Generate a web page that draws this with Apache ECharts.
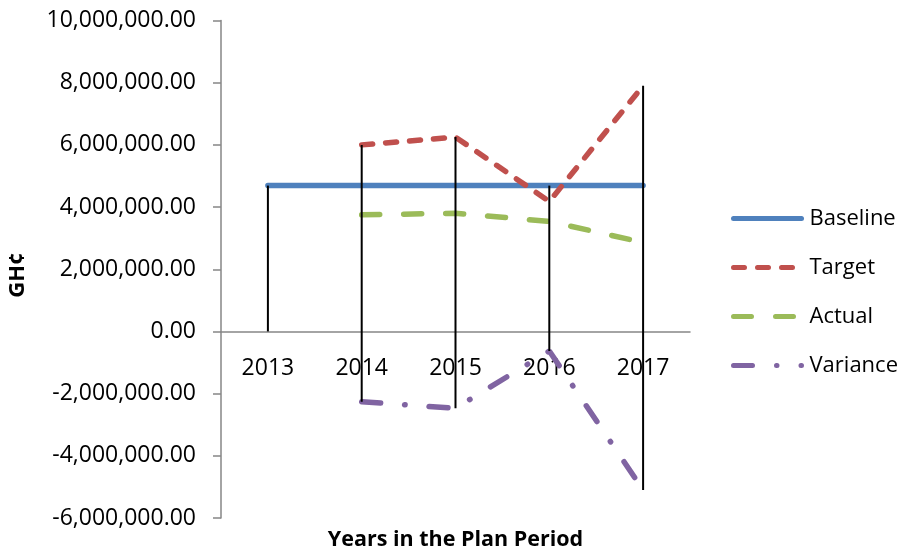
<!DOCTYPE html>
<html>
<head>
<meta charset="utf-8">
<script src="https://cdn.jsdelivr.net/npm/echarts@6/dist/echarts.min.js"></script>
<style>
html,body{margin:0;padding:0;background:#fff;}
#chart{width:903px;height:554px;}
</style>
</head>
<body>
<div id="chart"></div>
<script>
var categories = ['2013', '2014', '2015', '2016', '2017'];
var baseline = [4690000, 4690000, 4690000, 4690000, 4690000];
var target = [null, 6000000, 6250000, 4180000, 7900000];
var actual = [null, 3750000, 3800000, 3540000, 2860000];
var variance = [null, -2260000, -2470000, -630000, -5100000];
var yTicks = { min: -6000000, max: 10000000, interval: 2000000 };
var seriesNames = ['Baseline', 'Target', 'Actual', 'Variance'];

var FONT = 'Open Sans';
var all = [baseline, target, actual, variance];
var dropData = categories.map(function (c, i) {
  var vals = [];
  var missing = false;
  all.forEach(function (s) { if (s[i] === null) missing = true; else vals.push(s[i]); });
  if (missing) vals.push(0);
  return [i, Math.max.apply(null, vals), Math.min.apply(null, vals)];
});

function fmt(v) {
  return v.toLocaleString('en-US', { minimumFractionDigits: 2, maximumFractionDigits: 2 });
}

var gridTop = 20.5, gridBottom = 36, H = 554;
var plotH = H - gridTop - gridBottom;
// pixel distance from grid bottom up to the zero line (value-axis scale)
var zeroOffset = plotH * (0 - yTicks.min) / (yTicks.max - yTicks.min);

var chart = echarts.init(document.getElementById('chart'), null, { renderer: 'canvas' });
var option = {
  animation: false,
  backgroundColor: '#ffffff',
  grid: { left: 221, right: 213, top: gridTop, bottom: gridBottom, containLabel: false },
  xAxis: {
    type: 'category',
    data: categories,
    boundaryGap: true,
    offset: -zeroOffset,
    axisLine: { onZero: false, lineStyle: { color: '#868686', width: 1.5 } },
    axisTick: { show: false },
    axisLabel: { margin: 26, fontSize: 23, color: '#000', fontFamily: FONT },
    splitLine: { show: false }
  },
  yAxis: {
    type: 'value',
    min: yTicks.min, max: yTicks.max, interval: yTicks.interval,
    axisLine: { show: true, lineStyle: { color: '#868686', width: 1.5 } },
    axisTick: { show: true, length: 8, lineStyle: { color: '#868686', width: 1.5 } },
    axisLabel: { margin: 25, fontSize: 23, color: '#000', fontFamily: FONT, formatter: fmt },
    splitLine: { show: false }
  },
  legend: {
    data: seriesNames,
    orient: 'vertical',
    left: 726,
    top: 199.5,
    padding: 5,
    itemWidth: 68,
    itemHeight: 14,
    itemGap: 21,
    itemStyle: { color: 'rgba(0,0,0,0)', borderWidth: 0, opacity: 0 },
    lineStyle: { width: 5, cap: 'round' },
    textStyle: { fontSize: 22, color: '#000', fontFamily: FONT, lineHeight: 28, padding: [0, 0, 0, 3] }
  },
  graphic: [
    { type: 'text', x: 18, y: 275, rotation: Math.PI / 2,
      style: { text: 'GH\u00a2', fontSize: 22, fontWeight: 'bold', fontFamily: FONT, fill: '#000',
        align: 'center', verticalAlign: 'middle' } },
    { type: 'text', x: 455.5, y: 540,
      style: { text: 'Years in the Plan Period', fontSize: 21.5, fontWeight: 'bold', fontFamily: FONT, fill: '#000',
        align: 'center', verticalAlign: 'middle' } }
  ],
  series: [
    { name: 'Baseline', type: 'line', data: baseline, symbol: 'none', z: 3,
      lineStyle: { color: '#4F81BD', width: 5.5, cap: 'round' }, itemStyle: { color: '#4F81BD' } },
    { name: 'Target', type: 'line', data: target, symbol: 'none', z: 3,
      lineStyle: { color: '#C0504D', width: 5.5, type: [11, 13], cap: 'round' }, itemStyle: { color: '#C0504D' } },
    { name: 'Actual', type: 'line', data: actual, symbol: 'none', z: 3,
      lineStyle: { color: '#9BBB59', width: 5.5, type: [18, 24], cap: 'round' }, itemStyle: { color: '#9BBB59' } },
    { name: 'Variance', type: 'line', data: variance, symbol: 'none', z: 3,
      lineStyle: { color: '#8064A2', width: 5.5, type: [19, 24, 0.5, 24], cap: 'round' }, itemStyle: { color: '#8064A2' } },
    { name: 'drop', type: 'custom', z: 5, silent: true, data: dropData,
      renderItem: function (params, api) {
        var p1 = api.coord([api.value(0), api.value(1)]);
        var p2 = api.coord([api.value(0), api.value(2)]);
        return { type: 'line', shape: { x1: p1[0], y1: p1[1], x2: p2[0], y2: p2[1] },
          style: { stroke: '#000', lineWidth: 2 } };
      } }
  ]
};
chart.setOption(option);
</script>
</body>
</html>
